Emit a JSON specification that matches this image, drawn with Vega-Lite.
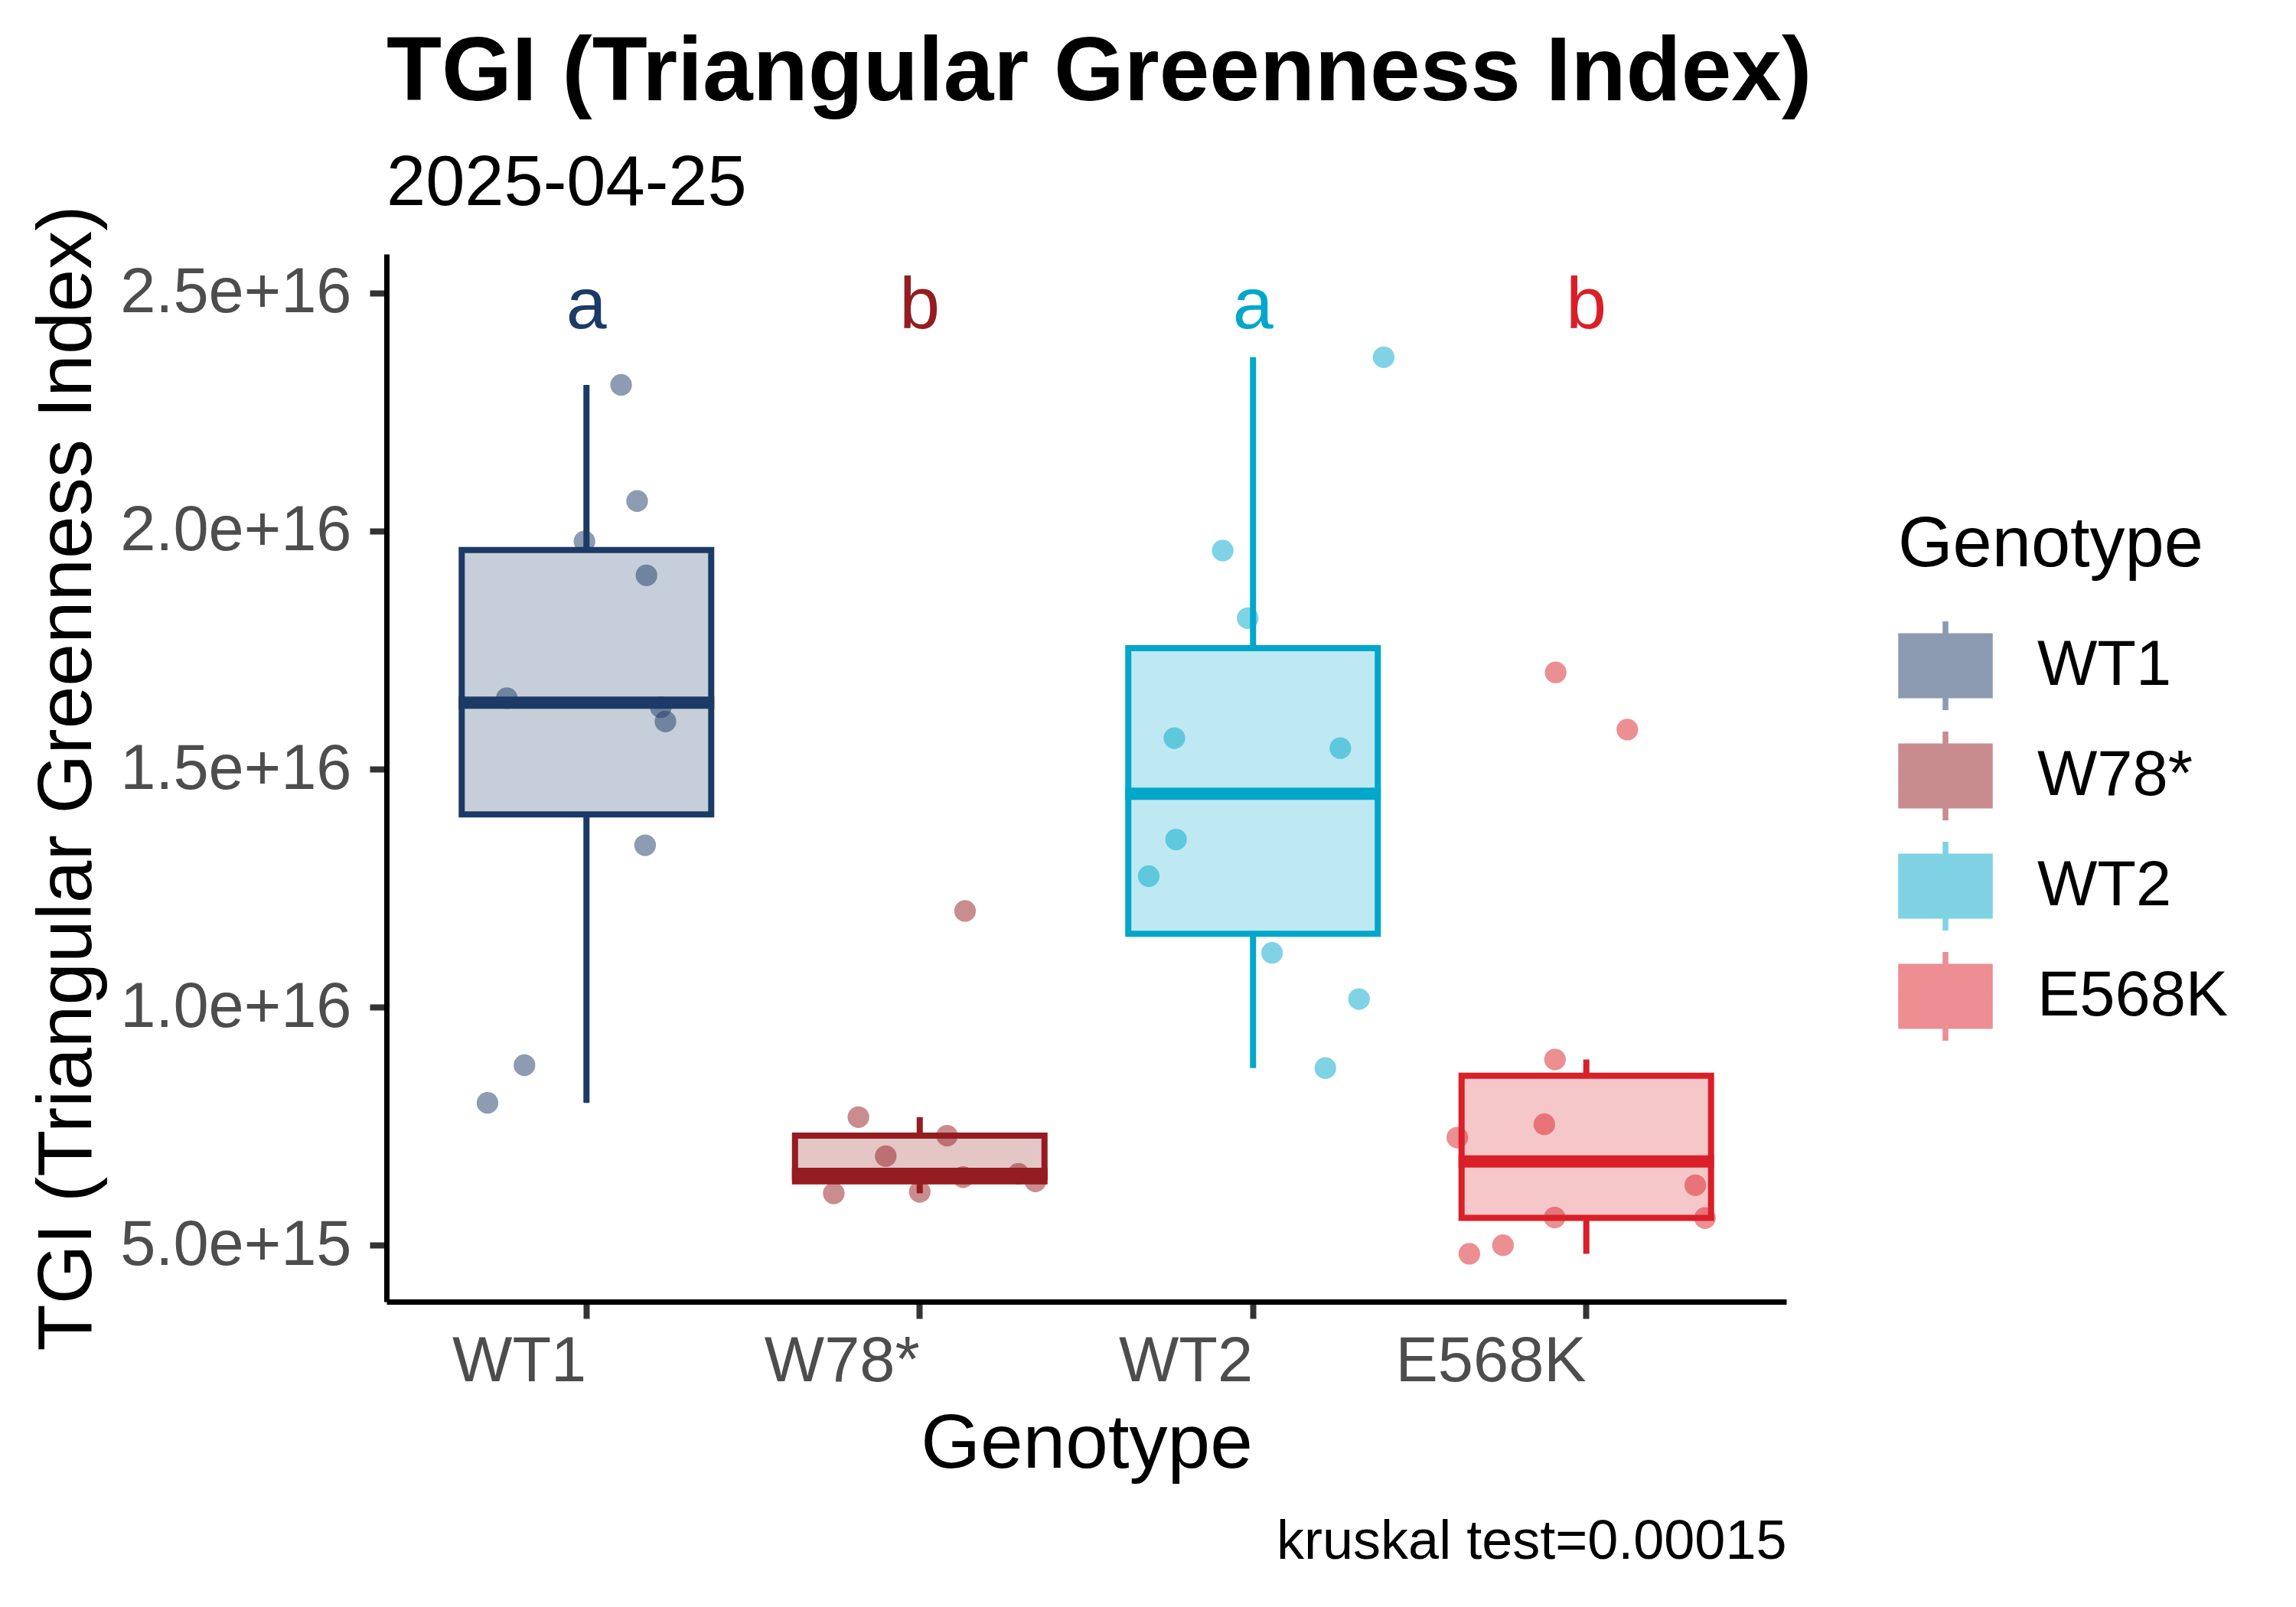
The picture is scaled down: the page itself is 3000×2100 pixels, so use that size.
{
  "$schema": "https://vega.github.io/schema/vega-lite/v6.json",
  "width": 1829,
  "height": 1369,
  "autosize": {"type": "none"},
  "padding": {"left": 505, "top": 332, "right": 666, "bottom": 399},
  "background": "white",
  "config": {
    "view": {"stroke": null},
    "font": "Liberation Sans"
  },
  "title": {
    "text": "TGI (Triangular Greenness Index)",
    "subtitle": "2025-04-25",
    "anchor": "start",
    "frame": "group",
    "font": "Liberation Sans",
    "fontSize": 118,
    "fontWeight": "bold",
    "color": "black",
    "subtitleFont": "Liberation Sans",
    "subtitleFontSize": 92,
    "subtitleColor": "black",
    "subtitlePadding": 39,
    "offset": -19,
    "limit": 3000
  },
  "datasets": {
    "pts": [
      {"Genotype": "WT1", "TGI": 2.307e16, "jitter": 0.104},
      {"Genotype": "WT1", "TGI": 2.063e16, "jitter": 0.152},
      {"Genotype": "WT1", "TGI": 1.978e16, "jitter": -0.006},
      {"Genotype": "WT1", "TGI": 1.907e16, "jitter": 0.18},
      {"Genotype": "WT1", "TGI": 1.649e16, "jitter": -0.239},
      {"Genotype": "WT1", "TGI": 1.63e16, "jitter": 0.223},
      {"Genotype": "WT1", "TGI": 1.6e16, "jitter": 0.237},
      {"Genotype": "WT1", "TGI": 1.34e16, "jitter": 0.176},
      {"Genotype": "WT1", "TGI": 0.878e16, "jitter": -0.186},
      {"Genotype": "WT1", "TGI": 0.799e16, "jitter": -0.297},
      {"Genotype": "W78*", "TGI": 1.202e16, "jitter": 0.136},
      {"Genotype": "W78*", "TGI": 0.769e16, "jitter": -0.184},
      {"Genotype": "W78*", "TGI": 0.73e16, "jitter": 0.082},
      {"Genotype": "W78*", "TGI": 0.687e16, "jitter": -0.102},
      {"Genotype": "W78*", "TGI": 0.65e16, "jitter": 0.296},
      {"Genotype": "W78*", "TGI": 0.643e16, "jitter": 0.13},
      {"Genotype": "W78*", "TGI": 0.634e16, "jitter": 0.347},
      {"Genotype": "W78*", "TGI": 0.612e16, "jitter": 0.0},
      {"Genotype": "W78*", "TGI": 0.609e16, "jitter": -0.258},
      {"Genotype": "WT2", "TGI": 2.365e16, "jitter": 0.392},
      {"Genotype": "WT2", "TGI": 1.959e16, "jitter": -0.091},
      {"Genotype": "WT2", "TGI": 1.817e16, "jitter": -0.016},
      {"Genotype": "WT2", "TGI": 1.565e16, "jitter": -0.236},
      {"Genotype": "WT2", "TGI": 1.544e16, "jitter": 0.262},
      {"Genotype": "WT2", "TGI": 1.352e16, "jitter": -0.231},
      {"Genotype": "WT2", "TGI": 1.275e16, "jitter": -0.313},
      {"Genotype": "WT2", "TGI": 1.114e16, "jitter": 0.057},
      {"Genotype": "WT2", "TGI": 1.017e16, "jitter": 0.318},
      {"Genotype": "WT2", "TGI": 0.872e16, "jitter": 0.217},
      {"Genotype": "E568K", "TGI": 1.703e16, "jitter": -0.092},
      {"Genotype": "E568K", "TGI": 1.583e16, "jitter": 0.123},
      {"Genotype": "E568K", "TGI": 0.89e16, "jitter": -0.094},
      {"Genotype": "E568K", "TGI": 0.754e16, "jitter": -0.126},
      {"Genotype": "E568K", "TGI": 0.726e16, "jitter": -0.387},
      {"Genotype": "E568K", "TGI": 0.626e16, "jitter": 0.327},
      {"Genotype": "E568K", "TGI": 0.558e16, "jitter": -0.095},
      {"Genotype": "E568K", "TGI": 0.557e16, "jitter": 0.356},
      {"Genotype": "E568K", "TGI": 0.5e16, "jitter": -0.25},
      {"Genotype": "E568K", "TGI": 0.482e16, "jitter": -0.351}
    ],
    "letters": [
      {"Genotype": "WT1", "letter": "a"},
      {"Genotype": "W78*", "letter": "b"},
      {"Genotype": "WT2", "letter": "a"},
      {"Genotype": "E568K", "letter": "b"}
    ]
  },
  "layer": [
    {
      "layer": [
        {
          "data": {"name": "pts"},
          "mark": {"type": "circle", "size": 800, "opacity": 0.5},
          "encoding": {
            "x": {
              "field": "Genotype",
              "type": "nominal",
              "scale": {"domain": ["WT1", "W78*", "WT2", "E568K"], "paddingInner": 0, "paddingOuter": 0.1},
              "axis": {
                "title": "Genotype",
                "titleFontSize": 100,
                "titleFontWeight": "normal",
                "titleColor": "black",
                "titleY": 216,
                "titleBaseline": "alphabetic",
                "labelAngle": 0,
                "labelAlign": "right",
                "labelFontSize": 83,
                "labelColor": "#4D4D4D",
                "labelPadding": 15,
                "labelLimit": 1000,
                "tickSize": 22,
                "tickWidth": 8,
                "tickColor": "#333333",
                "domainColor": "black",
                "domainWidth": 7,
                "grid": false
              }
            },
            "xOffset": {"field": "jitter", "type": "quantitative", "scale": {"domain": [-0.5, 0.5]}},
            "y": {
              "field": "TGI",
              "type": "quantitative",
              "scale": {"domain": [0.3814e16, 2.5817e16], "nice": false, "zero": false},
              "axis": {
                "title": "TGI (Triangular Greenness Index)",
                "titleFontSize": 100,
                "titleFontWeight": "normal",
                "titleColor": "black",
                "titleAngle": 270,
                "titleX": -387,
                "titleY": 684.5,
                "titleAlign": "center",
                "titleBaseline": "alphabetic",
                "titleLimit": 3000,
                "values": [0.5e16, 1.0e16, 1.5e16, 2.0e16, 2.5e16],
                "format": ".1e",
                "labelFontSize": 83,
                "labelColor": "#4D4D4D",
                "labelPadding": 24,
                "labelLimit": 1000,
                "tickSize": 22,
                "tickWidth": 8,
                "tickColor": "#333333",
                "domainColor": "black",
                "domainWidth": 7,
                "grid": false
              }
            },
            "color": {
              "field": "Genotype",
              "type": "nominal",
              "scale": {"domain": ["WT1", "W78*", "WT2", "E568K"], "range": ["#1B3A66", "#951C20", "#00A7CB", "#DA1F28"]},
              "legend": {
                "title": "Genotype",
                "orient": "none",
                "legendX": 1975,
                "legendY": 335,
                "padding": 0,
                "titleFontSize": 92,
                "titleFontWeight": "normal",
                "titleColor": "black",
                "titlePadding": 49,
                "titleLimit": 1000,
                "labelFontSize": 83,
                "labelColor": "black",
                "labelOffset": 58,
                "labelLimit": 1000,
                "rowPadding": -2,
                "symbolType": "M-1,-0.67H1V0.67H-1Z M-1,0H1 M0,-0.67V-1 M0,0.67V1",
                "symbolSize": 13456,
                "symbolStrokeWidth": 7.5,
                "encode": {
                  "symbols": {
                    "fillOpacity": {"value": 0.25},
                    "opacity": {"value": 1},
                    "strokeWidth": {"value": 7.5},
                    "stroke": {"value": {"expr": "scale('color', datum.value)"}}
                  }
                }
              }
            }
          }
        },
        {
          "data": {"name": "pts"},
          "transform": [
            {"joinaggregate": [
              {"op": "q1", "field": "TGI", "as": "lower"},
              {"op": "q3", "field": "TGI", "as": "upper"},
              {"op": "median", "field": "TGI", "as": "mid"}
            ], "groupby": ["Genotype"]},
            {"filter": "datum.TGI >= datum.lower - 1.5 * (datum.upper - datum.lower) && datum.TGI <= datum.upper + 1.5 * (datum.upper - datum.lower)"},
            {"aggregate": [
              {"op": "min", "field": "TGI", "as": "wlo"},
              {"op": "max", "field": "TGI", "as": "whi"},
              {"op": "min", "field": "lower", "as": "lower"},
              {"op": "min", "field": "upper", "as": "upper"},
              {"op": "min", "field": "mid", "as": "mid"}
            ], "groupby": ["Genotype"]}
          ],
          "layer": [
            {
              "mark": {"type": "rule", "strokeWidth": 8},
              "encoding": {
                "x": {"field": "Genotype", "type": "nominal"},
                "y": {"field": "wlo", "type": "quantitative"},
                "y2": {"field": "lower"},
                "color": {"field": "Genotype", "type": "nominal", "legend": null}
              }
            },
            {
              "mark": {"type": "rule", "strokeWidth": 8},
              "encoding": {
                "x": {"field": "Genotype", "type": "nominal"},
                "y": {"field": "upper", "type": "quantitative"},
                "y2": {"field": "whi"},
                "color": {"field": "Genotype", "type": "nominal", "legend": null}
              }
            },
            {
              "mark": {"type": "bar", "width": 326, "fillOpacity": 0.25, "strokeWidth": 8},
              "encoding": {
                "x": {"field": "Genotype", "type": "nominal"},
                "y": {"field": "lower", "type": "quantitative"},
                "y2": {"field": "upper"},
                "color": {"field": "Genotype", "type": "nominal", "legend": null},
                "stroke": {
                  "field": "Genotype",
                  "type": "nominal",
                  "scale": {"domain": ["WT1", "W78*", "WT2", "E568K"], "range": ["#1B3A66", "#951C20", "#00A7CB", "#DA1F28"]},
                  "legend": null
                }
              }
            },
            {
              "mark": {"type": "tick", "size": 334, "thickness": 16, "opacity": 1},
              "encoding": {
                "x": {"field": "Genotype", "type": "nominal"},
                "y": {"field": "mid", "type": "quantitative"},
                "color": {"field": "Genotype", "type": "nominal", "legend": null}
              }
            }
          ]
        },
        {
          "data": {"name": "letters"},
          "mark": {"type": "text", "fontSize": 95, "baseline": "middle", "align": "center"},
          "encoding": {
            "x": {"field": "Genotype", "type": "nominal"},
            "y": {"datum": 2.473e16},
            "text": {"field": "letter"},
            "color": {"field": "Genotype", "type": "nominal", "legend": null}
          }
        }
      ]
    },
    {
      "data": {"values": [{"k": "caption"}]},
      "mark": {"type": "point", "opacity": 0},
      "encoding": {
        "x": {
          "field": "k",
          "type": "nominal",
          "axis": {
            "orient": "bottom",
            "title": "kruskal test=0.00015",
            "titleFontSize": 72,
            "titleFontWeight": "normal",
            "titleColor": "black",
            "titleX": 1829,
            "titleY": 335,
            "titleAlign": "right",
            "titleBaseline": "alphabetic",
            "titleLimit": 3000,
            "labels": false,
            "ticks": false,
            "domain": false,
            "grid": false
          }
        },
        "y": {"datum": 2.0e16}
      }
    }
  ],
  "resolve": {"scale": {"x": "independent"}, "axis": {"x": "independent"}}
}
